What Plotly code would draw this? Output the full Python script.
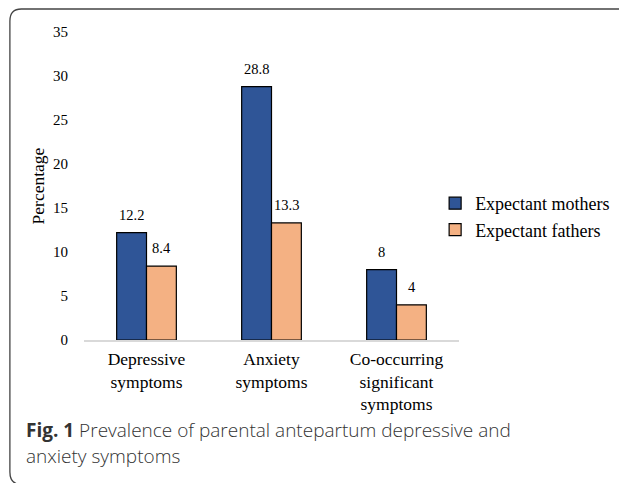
import plotly.graph_objects as go

categories = ["Depressive<br>symptoms", "Anxiety<br>symptoms", "Co-occurring<br>significant<br>symptoms"]
mothers = [12.2, 28.8, 8]
fathers = [8.4, 13.3, 4]
series_names = ["Expectant mothers", "Expectant fathers"]
colors = ["#2F5597", "#F4B183"]
y_ticks = [0, 5, 10, 15, 20, 25, 30, 35]

OFF = 8  # page body margin
W, H = 627 - OFF, 483 - OFF
L = 84 - OFF
T = 32 - OFF
R = W - (461 - OFF)
B = H - (340 - OFF)
pw, ph = W - L - R, H - T - B


def px(x):
    return (x - OFF - L) / pw


def py(y):
    return (H - B - (y - OFF)) / ph


fig = go.Figure()
for name, vals, col in zip(series_names, [mothers, fathers], colors):
    fig.add_trace(go.Bar(
        x=categories, y=vals, name=name,
        marker=dict(color=col, line=dict(color="black", width=1.2)),
    ))

serif = "Liberation Serif, Times New Roman, serif"
annotations = []
for vals, shift in [(mothers, -15), (fathers, 15)]:
    for c, v in zip(categories, vals):
        annotations.append(dict(
            x=c, y=v, xref="x", yref="y", text=f"{v:g}", showarrow=False,
            xshift=shift, yshift=8, yanchor="bottom",
            font=dict(family=serif, size=14.5, color="black"),
        ))

sans = "Open Sans, Noto Sans, sans-serif"
annotations.append(dict(
    x=px(24), y=py(430), xref="paper", yref="paper", xanchor="left", yanchor="middle",
    showarrow=False, align="left",
    text="<span style='font-weight:700'>Fig. 1</span> Prevalence of parental antepartum depressive and",
    font=dict(family=sans, size=19, color="#333333", weight=300),
))
annotations.append(dict(
    x=px(24), y=py(456), xref="paper", yref="paper", xanchor="left", yanchor="middle",
    showarrow=False, align="left",
    text="anxiety symptoms",
    font=dict(family=sans, size=19, color="#333333", weight=300),
))

# rounded frame (open on the right)
path = (f"M {px(640)},{py(9)} L {px(21)},{py(9)} "
        f"Q {px(9.5)},{py(9)} {px(9.5)},{py(21)} "
        f"L {px(9.5)},{py(472)} Q {px(9.5)},{py(482)} {px(17)},{py(484)}")

fig.update_layout(
    width=W, height=H,
    margin=dict(l=L, r=R, t=T, b=B),
    paper_bgcolor="white", plot_bgcolor="white",
    barmode="group", bargap=0.5226, bargroupgap=0,
    font=dict(family=serif, size=14, color="black"),
    showlegend=True,
    legend=dict(
        x=px(437), y=py(185), xanchor="left", yanchor="top",
        font=dict(family=serif, size=18, color="black"),
        itemwidth=30,
    ),
    annotations=annotations,
    shapes=[dict(type="path", xref="paper", yref="paper", path=path,
                 line=dict(color="#444444", width=1.3))],
)
fig.update_xaxes(
    showline=True, linecolor="#D9D9D9", linewidth=1.5,
    showgrid=False, ticks="outside", ticklen=2, tickcolor="rgba(0,0,0,0)",
    tickfont=dict(family=serif, size=17.5, color="black"),
    fixedrange=True,
)
fig.update_yaxes(
    range=[0, 35], tickvals=y_ticks, showgrid=False, zeroline=False, showline=False,
    ticks="outside", ticklen=12, tickcolor="rgba(0,0,0,0)",
    tickfont=dict(family=serif, size=15, color="black"),
    title=dict(text="Percentage", font=dict(family=serif, size=17.5, color="black"), standoff=3),
    fixedrange=True,
)

fig.write_html("out.html")
